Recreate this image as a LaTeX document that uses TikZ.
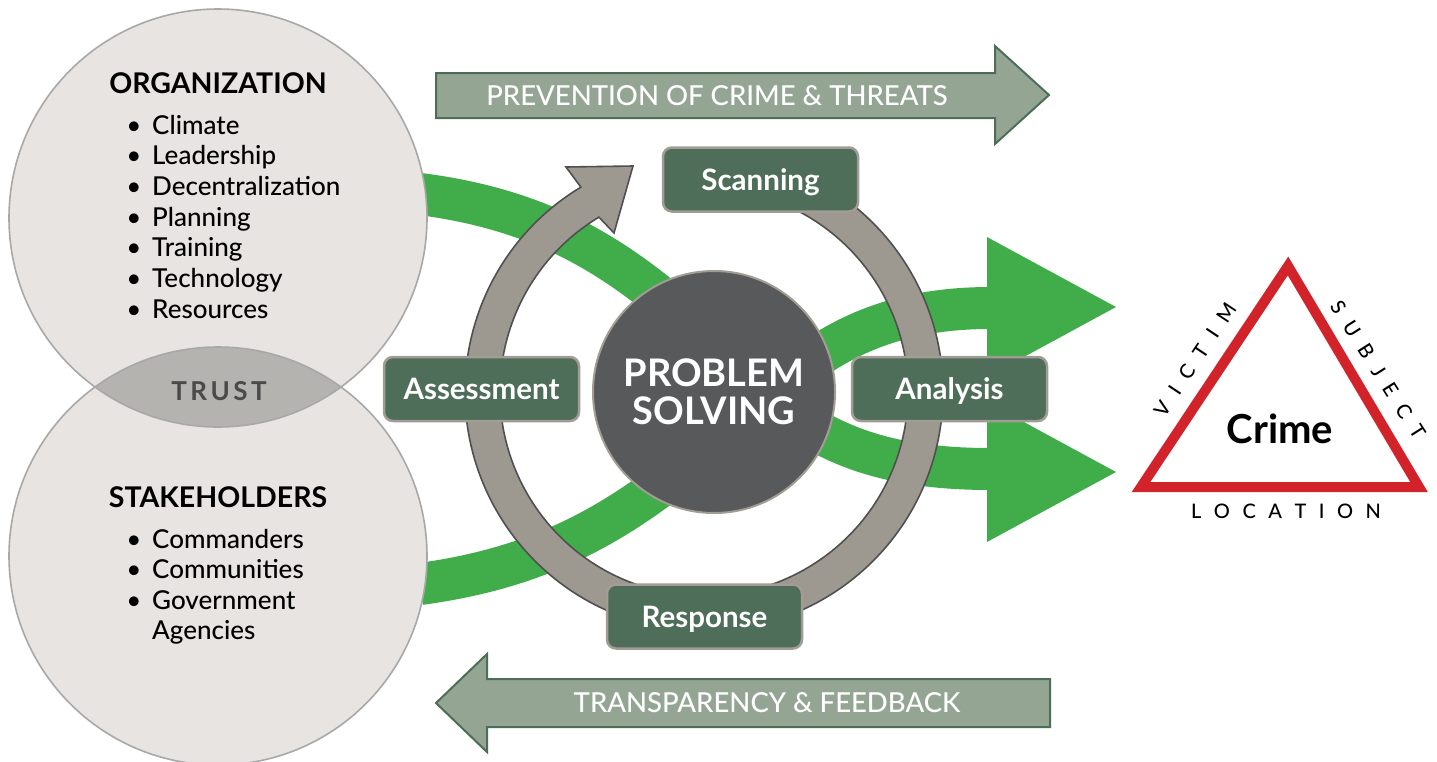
\documentclass[tikz,border=0pt]{standalone}
\usepackage{fontspec}
\setmainfont{Lato}
\IfFontExistsTF{Lato Medium}{\newfontfamily\medf{Lato Medium}}{\newcommand\medf{}}
\newcommand\fsz[1]{\fontsize{#1}{#1}\selectfont}
\definecolor{circfill}{HTML}{E7E4E1}
\definecolor{circedge}{HTML}{A8A8A8}
\definecolor{lensfill}{HTML}{B5B3B0}
\definecolor{trusttext}{HTML}{4A4A4A}
\definecolor{bandgreen}{HTML}{40AD4A}
\definecolor{ringfill}{HTML}{9D9890}
\definecolor{ringedge}{HTML}{505050}
\definecolor{boxgreen}{HTML}{4F6E5A}
\definecolor{boxedge}{HTML}{A29D94}
\definecolor{centergray}{HTML}{58595B}
\definecolor{bannerfill}{HTML}{95A594}
\definecolor{banneredge}{HTML}{4D6E56}
\definecolor{crimered}{HTML}{D2232A}
\begin{document}
\begin{tikzpicture}[x=1pt,y=-1pt,
  band/.style={draw=bandgreen, line width=42pt},
  headgreen/.style={fill=bandgreen},
  bigcirc/.style={circle, minimum size=418pt, inner sep=0pt},
  heading/.style={anchor=base, inner sep=0pt, font=\bfseries\fsz{28.5}},
  bulletdot/.style={anchor=base, inner sep=0pt, font=\fsz{26}},
  itemtext/.style={anchor=base west, inner sep=0pt, font=\medf\fsz{26}},
  stepbox/.style={rectangle, rounded corners=9pt, fill=boxgreen, draw=boxedge,
    line width=2.5pt, minimum width=195pt, minimum height=64pt, inner sep=0pt,
    text=white, font=\bfseries\fsz{29.5}, text height=21.2pt, text depth=0pt},
  banner/.style={fill=bannerfill, draw=banneredge, line width=2pt, line join=miter},
  bannertext/.style={anchor=base, inner sep=0pt, text=white, font=\medf\fsz{27.5}},
  ring/.style={fill=ringfill, draw=ringedge, line width=1.6pt, line join=miter},
  spaced/.style={font=\medf\fsz{20}, inner sep=0pt}
]
\useasboundingbox (0,0) rectangle (1437,761);

% green bands
\draw[band] (420,194) .. controls (560,212) and (640,270) .. (740,370)
  .. controls (800,430) and (860,469) .. (990,469);
\draw[band] (420,584) .. controls (560,565) and (640,510) .. (740,420)
  .. controls (800,365) and (860,308) .. (990,308);
\fill[headgreen] (987,237) -- (1116,307) -- (987,377) -- cycle;
\fill[headgreen] (987,402) -- (1116,472) -- (987,542) -- cycle;

% left circles
\node[bigcirc, fill=circfill] (org) at (218,218) {};
\node[bigcirc, fill=circfill] (stake) at (218,556) {};
\begin{scope}
  \clip (218,218) circle[radius=209];
  \fill[lensfill] (218,556) circle[radius=209];
\end{scope}
\draw[circedge, line width=1.6pt] (218,218) circle[radius=209];
\draw[circedge, line width=1.6pt] (218,556) circle[radius=209];

\node[heading] (orgT) at (218,93) {ORGANIZATION};
\foreach \t [count=\i] in {Climate,Leadership,Decentralization,Planning,Training,Technology,Resources}{
  \node[bulletdot] (ob\i) at (134,{134+30.7*(\i-1)}) {\textbullet};
  \node[itemtext] (oi\i) at (152,{134+30.7*(\i-1)}) {\t};
}
\node[heading] (stT) at (218,507) {STAKEHOLDERS};
\foreach \t [count=\i] in {Commanders,Communities,Government}{
  \node[bulletdot] (sb\i) at (134,{548+30.5*(\i-1)}) {\textbullet};
  \node[itemtext] (si\i) at (152,{548+30.5*(\i-1)}) {\t};
}
\node[itemtext] (si4) at (152,639) {Agencies};
\node[anchor=base, inner sep=0pt, font=\bfseries\fsz{26}, text=trusttext] (trust) at (219,400)
  {T\kern3.5pt R\kern3.5pt U\kern3.5pt S\kern3.5pt T};

% banners
\draw[banner] (436,73) -- (995,73) -- (995,46) -- (1049,95) -- (995,144) -- (995,118) -- (436,118) -- cycle;
\node[bannertext] (prev) at (717,105) {PREVENTION OF CRIME \& THREATS};
\draw[banner] (1050,679) -- (487,679) -- (487,654) -- (436,703) -- (487,752) -- (487,727) -- (1050,727) -- cycle;
\node[bannertext] (transp) at (767,712) {TRANSPARENCY \& FEEDBACK};

% ring arrow
\coordinate (rc) at (704,392);
\draw[ring] ([shift={(704,392)}]-80:239) arc[start angle=-80, end angle=239, radius=239]
  -- (566,167) -- (633,166) -- (614,233) -- ([shift={(704,392)}]239:204)
  arc[start angle=239, end angle=-80, radius=204] -- cycle;

% center
\node[circle, minimum size=242pt, inner sep=0pt, fill=centergray, draw=boxedge, line width=2pt,
  text=white, font=\bfseries\fsz{38}, align=center] (ps) at (714,392)
  {\fontsize{38}{35}\selectfont PROBLEM\\SOLVING};

% step boxes
\node[stepbox] (scan) at (760.5,179.5) {Scanning};
\node[stepbox] (anal) at (949.5,389) {Analysis};
\node[stepbox] (resp) at (704.5,616.5) {Response};
\node[stepbox] (asse) at (481.5,389) {Assessment};

% crime triangle
\coordinate (tA) at (1288,266);
\coordinate (tB) at (1141,487);
\coordinate (tC) at (1419,487);
\draw[crimered, line width=10pt, line join=miter] (tA) -- (tB) -- (tC) -- cycle;
\node[anchor=base, inner sep=0pt, font=\bfseries\fsz{40}] (crime) at (1280,443) {Crime};
\node[spaced, rotate=56.4] (victim) at (1195,360)
  {V\kern12.5pt I\kern12.5pt C\kern12.5pt T\kern12.5pt I\kern12.5pt M};
\node[spaced, rotate=-57.5] (subject) at (1378,370)
  {S\kern12.5pt U\kern12.5pt B\kern12.5pt J\kern12.5pt E\kern12.5pt C\kern12.5pt T};
\node[spaced, anchor=base] (location) at (1286,518)
  {L\kern12.5pt O\kern12.5pt C\kern12.5pt A\kern12.5pt T\kern12.5pt I\kern12.5pt O\kern12.5pt N};
\end{tikzpicture}
\end{document}
